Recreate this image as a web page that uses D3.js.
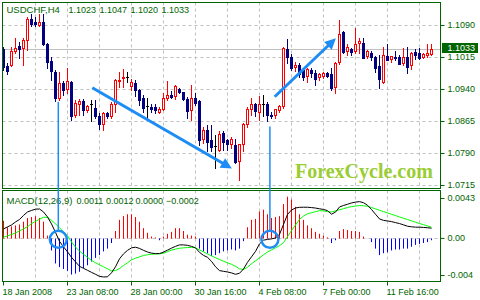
<!DOCTYPE html>
<html><head><meta charset="utf-8">
<script src="https://cdn.jsdelivr.net/npm/d3@7"></script>
<style>
html,body{margin:0;padding:0;background:#fff;}
svg{display:block;}
</style></head><body>
<svg id="chart" width="480" height="300"></svg>
<script>
const open = [1.1035,1.0995,1.0997,1.1028,1.1041,1.1037,1.1056,1.1105,1.1098,1.1090,
1.1098,1.1047,1.1007,1.0981,1.0920,1.0955,1.0939,1.0958,1.0879,1.0904,
1.0913,1.0890,1.0904,1.0897,1.0878,1.0859,1.0884,1.0877,1.0904,1.0960,
1.0965,1.0968,1.0947,1.0956,1.0939,1.0919,1.0901,1.0900,1.0899,1.0887,
1.0894,1.0920,1.0927,1.0924,1.0942,1.0933,1.0918,1.0890,1.0919,1.0913,
1.0822,1.0845,1.0822,1.0806,1.0798,1.0837,1.0822,1.0810,1.0810,1.0771,
1.0810,1.0857,1.0892,1.0906,1.0885,1.0904,1.0906,1.0881,1.0879,1.0890,
1.0900,1.1035,1.1017,1.0991,1.0997,1.0986,1.0970,1.0986,1.0978,1.0968,
1.0970,1.0979,1.0976,1.0945,1.1003,1.1074,1.1029,1.1035,1.1029,1.1047,
1.1048,1.1017,1.1025,1.1017,1.0996,1.0957,1.1019,1.1011,1.1017,1.1017,
1.1001,1.1017,1.0996,1.1029,1.1025,1.1015,1.1019,1.1023];
const high = [1.1040,1.1002,1.1040,1.1061,1.1051,1.1061,1.1110,1.1117,1.1110,1.1118,
1.1118,1.1049,1.1016,1.0986,1.0981,1.0959,1.0990,1.0959,1.0915,1.0918,
1.0918,1.0904,1.0915,1.0915,1.0885,1.0887,1.0888,1.0911,1.0965,1.0982,
1.0988,1.0981,1.0965,1.0962,1.0941,1.0927,1.0919,1.0906,1.0906,1.0900,
1.0931,1.0960,1.0937,1.0951,1.0944,1.0934,1.0923,1.0951,1.0932,1.0915,
1.0851,1.0856,1.0857,1.0833,1.0842,1.0842,1.0823,1.0828,1.0825,1.0810,
1.0862,1.0900,1.0919,1.0908,1.0924,1.0927,1.0910,1.0888,1.0894,1.0904,
1.1039,1.1058,1.1023,1.1004,1.1003,1.0990,1.0991,1.0990,1.0986,1.0978,
1.0982,1.0982,1.0990,1.1004,1.1103,1.1076,1.1046,1.1038,1.1083,1.1060,
1.1060,1.1033,1.1030,1.1019,1.1021,1.1040,1.1046,1.1019,1.1030,1.1021,
1.1037,1.1040,1.1029,1.1035,1.1037,1.1025,1.1046,1.1047];
const low = [1.0986,1.0976,1.0995,1.1026,1.1014,1.0997,1.1033,1.1089,1.1089,1.1089,
1.1044,1.0990,1.0962,1.0913,1.0915,1.0927,1.0932,1.0869,1.0876,1.0880,
1.0880,1.0887,1.0866,1.0873,1.0847,1.0845,1.0873,1.0873,1.0887,1.0946,
1.0945,1.0958,1.0939,1.0924,1.0904,1.0888,1.0873,1.0887,1.0885,1.0884,
1.0892,1.0915,1.0919,1.0918,1.0931,1.0915,1.0873,1.0869,1.0904,1.0810,
1.0815,1.0795,1.0795,1.0757,1.0795,1.0798,1.0798,1.0803,1.0767,1.0728,
1.0796,1.0852,1.0880,1.0877,1.0869,1.0877,1.0865,1.0873,1.0873,1.0888,
1.0897,1.1002,1.0986,1.0983,1.0969,1.0962,1.0958,1.0970,1.0951,1.0962,
1.0966,1.0970,1.0939,1.0931,1.0999,1.1025,1.1021,1.1021,1.1025,1.1025,
1.1013,1.1013,1.1009,1.0982,1.0944,1.0955,1.1008,1.1005,1.1009,1.0999,
1.0997,1.0978,1.0988,1.1012,1.1012,1.1013,1.1017,1.1020];
const close = [1.0993,1.0983,1.1030,1.1037,1.1036,1.1056,1.1103,1.1094,1.1094,1.1097,
1.1047,1.1005,1.0983,1.0920,1.0955,1.0939,1.0958,1.0877,1.0907,1.0911,
1.0892,1.0899,1.0904,1.0877,1.0859,1.0883,1.0877,1.0905,1.0962,1.0962,
1.0969,1.0968,1.0956,1.0939,1.0915,1.0896,1.0901,1.0894,1.0892,1.0894,
1.0919,1.0927,1.0922,1.0947,1.0934,1.0918,1.0890,1.0919,1.0908,1.0822,
1.0845,1.0818,1.0806,1.0806,1.0835,1.0818,1.0812,1.0822,1.0769,1.0810,
1.0857,1.0894,1.0906,1.0889,1.0904,1.0904,1.0880,1.0877,1.0892,1.0900,
1.1036,1.1017,1.0990,1.0996,1.0976,1.0970,1.0986,1.0978,1.0965,1.0976,
1.0978,1.0972,1.0944,1.1001,1.1070,1.1029,1.1038,1.1027,1.1046,1.1052,
1.1015,1.1030,1.1017,1.0991,1.0965,1.1019,1.1009,1.1017,1.1013,1.1000,
1.1015,1.0993,1.1025,1.1021,1.1013,1.1021,1.1025,1.1033];

const macdMain = [0.00102,0.00124,0.00145,0.00177,0.00204,0.00247,0.00285,0.00301,0.00315,0.00317,
0.00285,0.00231,0.00156,0.00065,-0.00032,-0.00091,-0.00145,-0.00204,-0.00253,-0.00301,
-0.00323,-0.00344,-0.00366,-0.00387,-0.00409,-0.00416,-0.00414,-0.00371,-0.00306,-0.00220,
-0.00167,-0.00129,-0.00102,-0.00095,-0.00108,-0.00129,-0.00147,-0.00159,-0.00164,-0.00164,
-0.00148,-0.00127,-0.00105,-0.00086,-0.00070,-0.00070,-0.00075,-0.00086,-0.00102,-0.00151,
-0.00183,-0.00204,-0.00247,-0.00306,-0.00347,-0.00355,-0.00362,-0.00372,-0.00387,-0.00376,
-0.00330,-0.00258,-0.00199,-0.00140,-0.00059,-0.00019,-0.00011,-0.00005,0.00005,0.00043,
0.00151,0.00258,0.00306,0.00328,0.00335,0.00336,0.00336,0.00332,0.00327,0.00319,
0.00312,0.00299,0.00261,0.00283,0.00339,0.00355,0.00368,0.00382,0.00391,0.00396,
0.00385,0.00357,0.00312,0.00260,0.00210,0.00194,0.00188,0.00181,0.00170,0.00160,
0.00146,0.00131,0.00125,0.00121,0.00121,0.00118,0.00115,0.00110];
const macdSignal = [0.00013,0.00027,0.00042,0.00059,0.00081,0.00102,0.00127,0.00159,0.00183,0.00206,
0.00228,0.00226,0.00194,0.00157,0.00115,0.00072,0.00027,-0.00038,-0.00094,-0.00137,
-0.00171,-0.00203,-0.00237,-0.00263,-0.00285,-0.00306,-0.00328,-0.00350,-0.00347,-0.00325,
-0.00292,-0.00263,-0.00231,-0.00213,-0.00199,-0.00184,-0.00176,-0.00170,-0.00168,-0.00166,
-0.00160,-0.00143,-0.00126,-0.00116,-0.00106,-0.00102,-0.00099,-0.00096,-0.00102,-0.00124,
-0.00145,-0.00167,-0.00188,-0.00209,-0.00228,-0.00246,-0.00263,-0.00280,-0.00300,-0.00329,
-0.00334,-0.00311,-0.00273,-0.00242,-0.00210,-0.00177,-0.00146,-0.00124,-0.00102,-0.00078,
-0.00046,0.00019,0.00084,0.00144,0.00205,0.00241,0.00266,0.00277,0.00288,0.00299,
0.00296,0.00288,0.00285,0.00297,0.00309,0.00320,0.00333,0.00343,0.00348,0.00354,
0.00352,0.00346,0.00333,0.00318,0.00303,0.00289,0.00275,0.00260,0.00246,0.00231,
0.00217,0.00203,0.00189,0.00174,0.00160,0.00148,0.00134,0.00120];
const macdHist = [0.0019,0.0012,0.0013,0.0014,0.0015,0.0018,0.0022,0.0023,0.0024,0.0022,
0.0018,0.0003,-0.0013,-0.0027,-0.0031,-0.0033,-0.0035,-0.0039,-0.0038,-0.0036,
-0.0032,-0.0029,-0.0025,-0.0021,-0.0018,-0.0014,-0.0011,-0.0005,0.0008,0.0020,
0.0024,0.0026,0.0026,0.0023,0.0018,0.0011,0.0006,0.0002,0.0001,-0.0002,
0.0002,0.0005,0.0007,0.0011,0.0011,0.0008,0.0004,0.0003,0.0002,-0.0011,
-0.0014,-0.0016,-0.0019,-0.0018,-0.0016,-0.0014,-0.0013,-0.0012,-0.0013,-0.0011,
-0.0003,0.0012,0.0020,0.0021,0.0029,0.0031,0.0026,0.0022,0.0023,0.0024,
0.0037,0.0045,0.0042,0.0034,0.0026,0.0020,0.0014,0.0011,0.0007,0.0005,
0.0003,0.0001,-0.0005,-0.0002,0.0008,0.0010,0.0009,0.0008,0.0008,0.0007,
0.0002,0.0000,-0.0004,-0.0011,-0.0018,-0.0016,-0.0015,-0.0013,-0.0012,-0.0012,
-0.0011,-0.0011,-0.0009,-0.0007,-0.0006,-0.0005,-0.0004,-0.0002];

const priceTicks = [1.0715, 1.0790, 1.0865, 1.0940, 1.1015, 1.1090];
const macdTicks = [-0.004, 0, 0.0043];
const macdTickLabels = ["-0.004", "0.00", "0.0043"];
const timeBars = [0, 16, 32, 48, 64, 80, 96];
const timeLabels = ["18 Jan 2008", "23 Jan 08:00", "28 Jan 00:00", "30 Jan 16:00", "4 Feb 08:00", "7 Feb 00:00", "11 Feb 16:00"];
const symbolName = "USDCHF,H4";
const indicatorName = "MACD(12,26,9)";
const watermark = "ForexCycle.com";
// annotations in data space: [bar, price]
const arrowFrom = [[22.2, 1.0944], [67.8, 1.0923]];
const arrowTo = [[57.1, 1.0755], [83.1, 1.1060]];
const markerBar = [13.7, 66.6];
const markerTopPrice = [1.0911, 1.0853];
const markerMacd = [-0.0001, -0.0001];

const GREEN = "#006400", UP = "#ff0000", DOWN = "#000080", ANN = "#1e8cf5";
const FONT = "'Liberation Sans', Arial, sans-serif";
const svg = d3.select("#chart");
const N = close.length;
const x = d3.scaleLinear().domain([0, N - 1]).range([3.5, 3.5 + 4 * (N - 1)]);
const yP = d3.scaleLinear().domain([1.0715, 1.1090]).range([185.5, 25.5]);
const yM = d3.scaleLinear().domain([-0.004, 0.0043]).range([275.5, 198.5]);
const snap = v => Math.round(v - 0.5) + 0.5;
const main = {x0: 2.5, x1: 440.5, y0: 2.5, y1: 188.5};
const sub = {x0: 2.5, x1: 440.5, y0: 190.5, y1: 281.5};

const defs = svg.append("defs");
[["clipMain", main], ["clipSub", sub]].forEach(([id, p]) => {
  defs.append("clipPath").attr("id", id).append("rect")
    .attr("x", p.x0).attr("y", p.y0).attr("width", p.x1 - p.x0).attr("height", p.y1 - p.y0);
});

const gridBars = d3.range(8, N, 8);
function vgrid(g, p) {
  g.selectAll("line.vg").data(gridBars).join("line").attr("class", "vg")
    .attr("x1", d => x(d)).attr("x2", d => x(d)).attr("y1", p.y0).attr("y2", p.y1)
    .attr("stroke", "#c0c0c0").attr("stroke-dasharray", "3,3");
}
const gMain = svg.append("g").attr("clip-path", "url(#clipMain)");
vgrid(gMain, main);
gMain.selectAll("line.hg").data(priceTicks).join("line").attr("class", "hg")
  .attr("x1", main.x0).attr("x2", main.x1).attr("y1", d => snap(yP(d))).attr("y2", d => snap(yP(d)))
  .attr("stroke", "#c0c0c0").attr("stroke-dasharray", "3,3");
// bid line
const bid = close[N - 1];
gMain.append("line").attr("x1", main.x0).attr("x2", main.x1)
  .attr("y1", snap(yP(bid))).attr("y2", snap(yP(bid))).attr("stroke", "#c0c0c0");

// watermark
gMain.append("text").text(watermark).attr("x", 295).attr("y", 177.5)
  .attr("font-family", "'Liberation Serif','Times New Roman',serif").attr("font-weight", "bold")
  .attr("font-size", 20).attr("fill", "#9acd32");

// candles
const idx = d3.range(N);
const kind = i => close[i] > open[i] ? "up" : (close[i] < open[i] ? "down" : "doji");
const col = i => ({up: UP, down: DOWN, doji: "#000"})[kind(i)];
gMain.selectAll("line.wick").data(idx).join("line").attr("class", "wick")
  .attr("x1", i => x(i)).attr("x2", i => x(i))
  .attr("y1", i => Math.round(yP(high[i]))).attr("y2", i => Math.round(yP(low[i])) + 1)
  .attr("stroke", col);
gMain.selectAll("rect.up").data(idx.filter(i => kind(i) === "up")).join("rect").attr("class", "up")
  .attr("x", i => x(i) - 1).attr("width", 2)
  .attr("y", i => snap(yP(close[i])))
  .attr("height", i => Math.max(1, snap(yP(open[i])) - snap(yP(close[i]))))
  .attr("fill", "#fff").attr("stroke", UP);
gMain.selectAll("rect.down").data(idx.filter(i => kind(i) === "down")).join("rect").attr("class", "down")
  .attr("x", i => x(i) - 1.5).attr("width", 3)
  .attr("y", i => Math.round(yP(open[i])))
  .attr("height", i => Math.max(1, Math.round(yP(close[i])) - Math.round(yP(open[i])) + 1))
  .attr("fill", DOWN);
gMain.selectAll("line.doji").data(idx.filter(i => kind(i) === "doji")).join("line").attr("class", "doji")
  .attr("x1", i => x(i) - 1.5).attr("x2", i => x(i) + 1.5)
  .attr("y1", i => snap(yP(open[i]))).attr("y2", i => snap(yP(open[i]))).attr("stroke", "#000");

// MACD pane
const gSub = svg.append("g").attr("clip-path", "url(#clipSub)");
vgrid(gSub, sub);
const y0 = snap(yM(0));
gSub.append("line").attr("x1", sub.x0).attr("x2", sub.x1).attr("y1", y0).attr("y2", y0)
  .attr("stroke", "#c0c0c0").attr("stroke-dasharray", "3,3");
gSub.selectAll("line.hist").data(idx).join("line").attr("class", "hist")
  .attr("x1", i => x(i)).attr("x2", i => x(i))
  .attr("y1", y0).attr("y2", i => yM(macdHist[i]))
  .attr("stroke", i => macdHist[i] > 0 ? "#ff0000" : "#0000ff");
const line = d3.line().x((d, i) => x(i)).y(d => yM(d));
gSub.append("path").attr("d", line(macdSignal)).attr("fill", "none").attr("stroke", "#00ff00");
gSub.append("path").attr("d", line(macdMain)).attr("fill", "none").attr("stroke", "#000");

// frames
[main, sub].forEach(p => svg.append("rect").attr("x", p.x0).attr("y", p.y0)
  .attr("width", p.x1 - p.x0).attr("height", p.y1 - p.y0).attr("fill", "none").attr("stroke", GREEN));

// axes
function styleAxis(g) {
  g.select(".domain").remove();
  g.selectAll("line").attr("stroke", GREEN);
  g.selectAll("text").attr("fill", GREEN).attr("font-size", 9).attr("font-family", FONT);
}
svg.append("g").attr("transform", `translate(${main.x1},0)`)
  .call(d3.axisRight(yP).tickValues(priceTicks).tickSize(4).tickPadding(3).offset(0).tickFormat(d3.format(".4f")))
  .call(styleAxis);
svg.append("g").attr("transform", `translate(${sub.x1},0)`)
  .call(d3.axisRight(yM).tickValues(macdTicks).tickSize(4).tickPadding(3).offset(0)
    .tickFormat((d, i) => macdTickLabels[i]))
  .call(styleAxis);
svg.append("g").attr("transform", `translate(0,${sub.y1})`)
  .call(d3.axisBottom(x).tickValues(timeBars).tickSize(4).tickPadding(3).offset(0)
    .tickFormat((d, i) => timeLabels[i]))
  .call(styleAxis)
  .call(g => g.selectAll("text").attr("text-anchor", "start").attr("x", -1));

// bid label
const by = snap(yP(bid));
svg.append("rect").attr("x", 442).attr("y", by - 6.5).attr("width", 36).attr("height", 10).attr("fill", GREEN);
svg.append("text").text(d3.format(".4f")(bid)).attr("x", 447.5).attr("y", by + 1.8)
  .attr("fill", "#fff").attr("font-size", 9).attr("font-family", FONT);

// titles
const f4 = d3.format(".4f");
const titleParts = [symbolName, f4(open[N-1]), f4(high[N-1]), f4(low[N-1]), f4(close[N-1])];
const titleX = [6.5, 68.5, 99.5, 130.5, 161.5];
svg.append("text").attr("y", 13.3).attr("fill", GREEN).attr("font-size", 9).attr("font-family", FONT)
  .selectAll("tspan").data(titleParts).join("tspan").attr("x", (d, i) => titleX[i])
  .attr("font-size", (d, i) => i === 0 ? 9.5 : 9).text(d => d);
const lastH = macdHist[N - 1];
const macdParts = [indicatorName, f4(macdMain[N-1]), f4(macdSignal[N-1]), f4(Math.max(0, lastH)), f4(Math.min(0, lastH))];
const macdX = [6.5, 76.5, 106, 135.5, 166];
svg.append("text").attr("y", 203.6).attr("fill", GREEN).attr("font-size", 9).attr("font-family", FONT)
  .selectAll("tspan").data(macdParts).join("tspan").attr("x", (d, i) => macdX[i])
  .attr("font-size", (d, i) => i === 0 ? 9.5 : 9).text(d => d);

// annotations
const gAnn = svg.append("g");
markerBar.forEach((b, k) => {
  const cx = x(b), cy = yM(markerMacd[k]), r = 8.5;
  gAnn.append("line").attr("x1", cx).attr("x2", cx).attr("y1", yP(markerTopPrice[k])).attr("y2", cy - r)
    .attr("stroke", ANN).attr("stroke-width", 1.5);
  gAnn.append("circle").attr("cx", cx).attr("cy", cy).attr("r", r)
    .attr("fill", "none").attr("stroke", ANN).attr("stroke-width", 2.5);
});
arrowFrom.forEach((a, k) => {
  const sx = x(a[0]), sy = yP(a[1]);
  const tx = x(arrowTo[k][0]), ty = yP(arrowTo[k][1]);
  const len = Math.hypot(tx - sx, ty - sy), ux = (tx - sx) / len, uy = (ty - sy) / len;
  const L = 11, w = 5.5, bx = tx - ux * L, byy = ty - uy * L;
  gAnn.append("line").attr("x1", sx).attr("y1", sy).attr("x2", bx + ux * 2).attr("y2", byy + uy * 2)
    .attr("stroke", ANN).attr("stroke-width", 3);
  gAnn.append("path").attr("d", `M${tx},${ty}L${bx - uy * w},${byy + ux * w}L${bx + uy * w},${byy - ux * w}Z`)
    .attr("fill", ANN);
});
</script>
</body></html>
